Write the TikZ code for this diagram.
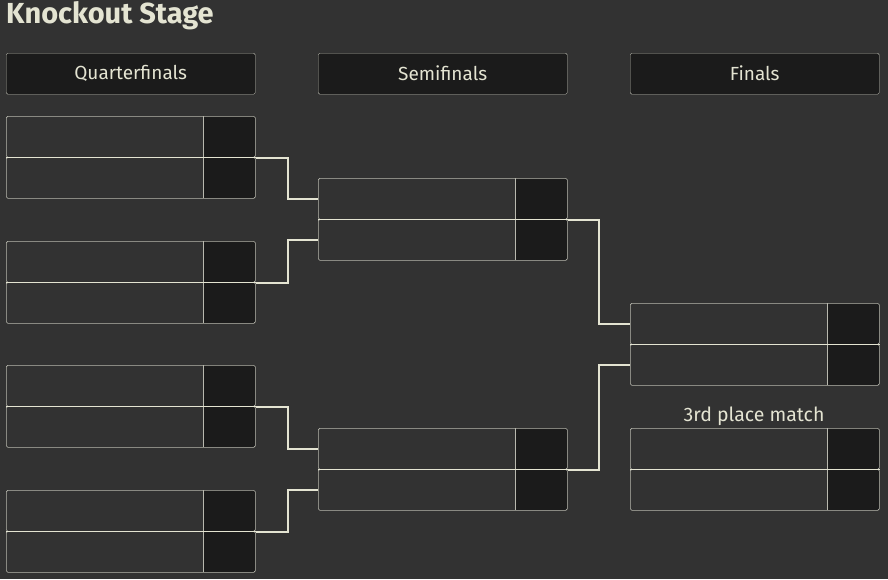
\documentclass[tikz,border=0pt]{standalone}
\usepackage{fontspec}
\setmainfont{Fira Sans}
\definecolor{bg}{HTML}{323232}
\definecolor{dark}{HTML}{1B1B1B}
\definecolor{cream}{HTML}{E4E4D2}
\definecolor{edge}{HTML}{B8B8AE}
\begin{document}
\begin{tikzpicture}[x=1pt,y=-1pt,
  hdr/.style={draw=edge,fill=dark,rounded corners=1.5pt,minimum width=249pt,minimum height=41pt,inner sep=0,anchor=north west,text=cream,font=\fontsize{19}{21}\selectfont},
  rowbox/.style={draw=edge,line width=0.6pt,minimum width=249pt,minimum height=41pt,inner sep=0,anchor=north west,rounded corners=1.5pt},
  link/.style={draw=cream,line width=2.2pt}]
\fill[bg] (0,0) rectangle (888,579);
\useasboundingbox (0,0) rectangle (888,579);
\node[anchor=west,text=cream,font=\bfseries\fontsize{29}{32}\selectfont,inner sep=0] (title) at (6,16) {Knockout Stage};
\node[hdr] (hq) at (6,53) {Quarterfinals};
\node[hdr] (hs) at (318,53) {Semifinals};
\node[hdr] (hf) at (630,53) {Finals};
\newcommand\mymatch[3]{%
  \fill[dark] (#2+197,#3) rectangle (#2+249,#3+82);
  \node[rowbox] (#1a) at (#2,#3) {};
  \node[rowbox] (#1b) at (#2,#3+41) {};
  \draw[edge,line width=0.6pt] (#2+197,#3) -- (#2+197,#3+82);
  \draw[cream,line width=1.6pt] (#1a.south west) -- (#1a.south east);
}
\mymatch{q1}{6}{116}
\mymatch{q2}{6}{241}
\mymatch{q3}{6}{365}
\mymatch{q4}{6}{490}
\mymatch{s1}{318}{178}
\mymatch{s2}{318}{428}
\mymatch{f1}{630}{303}
\mymatch{f3}{630}{428}
\node[text=cream,font=\fontsize{19.5}{21}\selectfont] (third) at (754,416) {3rd place match};
\draw[link] (q1a.south east) -- ([xshift=32pt]q1a.south east) |- (s1a.west);
\draw[link] (q2a.south east) -- ([xshift=32pt]q2a.south east) |- (s1b.west);
\draw[link] (q3a.south east) -- ([xshift=32pt]q3a.south east) |- (s2a.west);
\draw[link] (q4a.south east) -- ([xshift=32pt]q4a.south east) |- (s2b.west);
\draw[link] (s1a.south east) -- ([xshift=31pt]s1a.south east) |- (f1a.west);
\draw[link] (s2a.south east) -- ([xshift=31pt]s2a.south east) |- (f1b.west);
\end{tikzpicture}
\end{document}
